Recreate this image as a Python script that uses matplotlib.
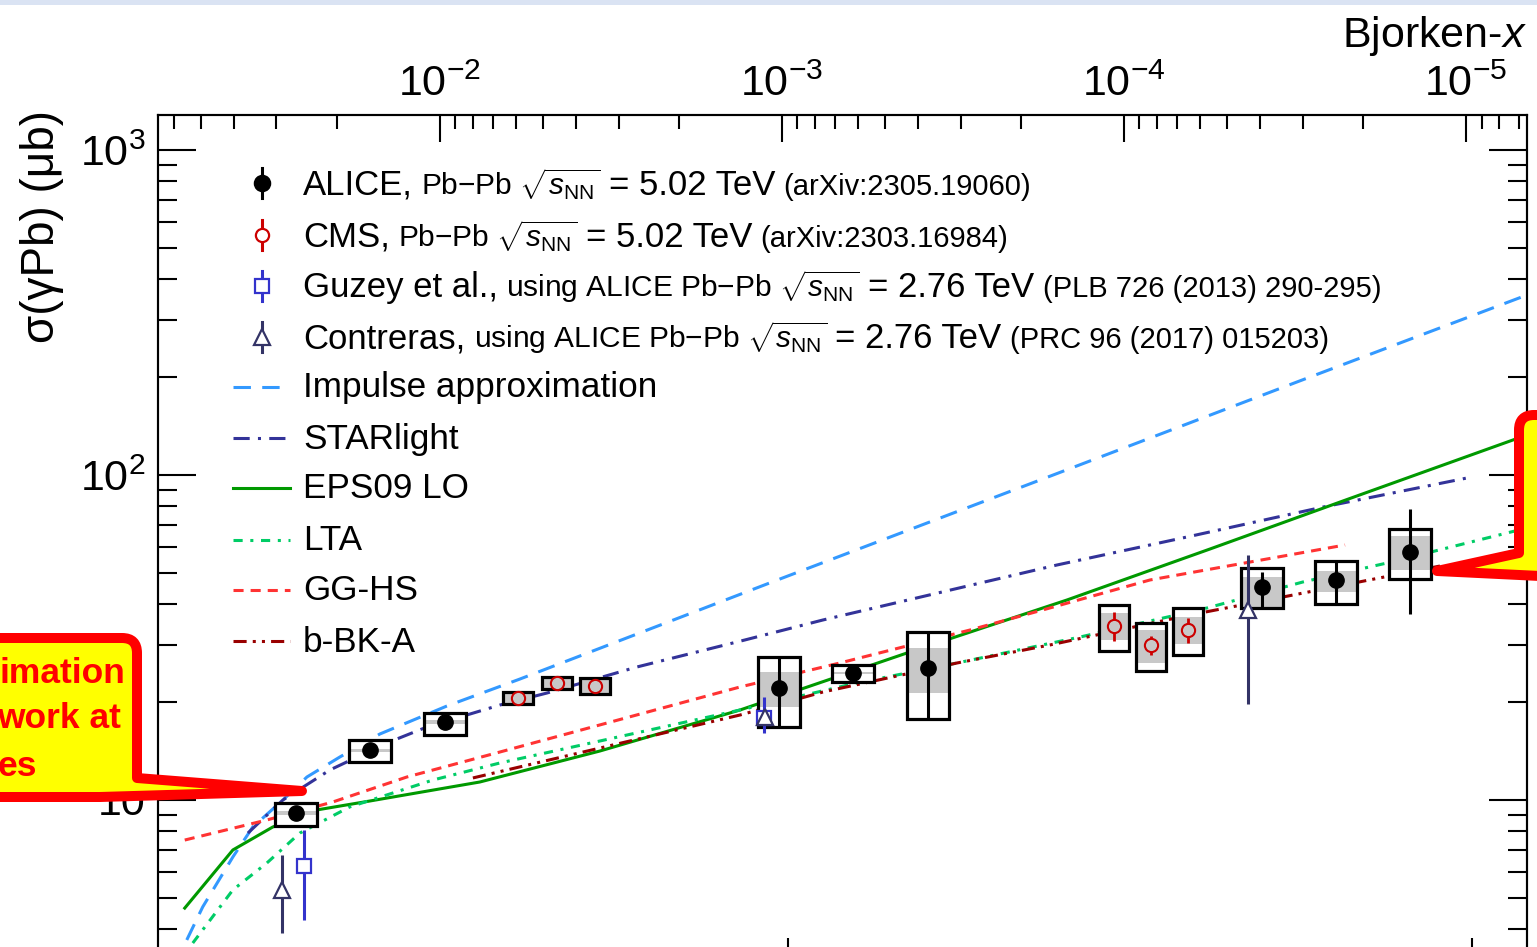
import numpy as np
import matplotlib
matplotlib.use("Agg")
import matplotlib.pyplot as plt
import matplotlib.transforms as mtransforms
from matplotlib.patches import Rectangle, PathPatch
from matplotlib.path import Path
from matplotlib.lines import Line2D
from matplotlib.offsetbox import TextArea, HPacker, AnnotationBbox
from matplotlib.ticker import LogLocator, FuncFormatter, NullFormatter

plt.rcParams['font.family'] = ['Liberation Sans', 'DejaVu Sans']
plt.rcParams['mathtext.fontset'] = 'custom'
plt.rcParams['mathtext.rm'] = 'Liberation Sans'
plt.rcParams['mathtext.it'] = 'Liberation Sans:italic'
plt.rcParams['mathtext.bf'] = 'Liberation Sans:bold'

M_JPSI = 3.0969  # GeV, x = (M/W)^2

# ALICE Pb-Pb 5.02 TeV: W (GeV), sigma (ub), stat, box (uncorr. syst), grey band
alice_w = [19.1, 24.5, 31.5, 97.0, 124.5, 160.2, 493.2, 632.7, 811.9]
alice_sig = [9.12, 14.25, 17.38, 22.12, 24.59, 25.48, 45.22, 47.53, 57.97]
alice_stat_lo = [0.35, 0.40, 0.50, 5.35, 0.50, 7.73, 6.24, 7.43, 20.62]
alice_stat_hi = [0.35, 0.40, 0.50, 5.42, 0.50, 7.40, 5.07, 6.84, 20.63]
alice_box_lo = [0.80, 1.16, 1.53, 5.35, 1.52, 7.73, 6.24, 7.43, 10.11]
alice_box_hi = [0.67, 1.05, 1.14, 5.42, 1.44, 7.40, 6.51, 6.84, 10.25]
alice_band_lo = [0.10, 0.15, 0.20, 2.79, 0.15, 4.14, 5.96, 3.88, 6.95]
alice_band_hi = [0.10, 0.15, 0.20, 2.64, 0.15, 3.88, 3.34, 3.12, 6.94]

# CMS Pb-Pb 5.02 TeV
cms_w = [40.3, 45.95, 52.22, 299.7, 339.6, 384.5]
cms_sig = [20.60, 22.91, 22.43, 34.31, 29.99, 33.35]
cms_stat = [0.4, 0.4, 0.4, 3.5, 2.0, 3.0]
cms_box_lo = [0.86, 0.96, 1.23, 5.57, 5.05, 5.41]
cms_box_hi = [0.89, 0.99, 1.30, 5.50, 5.05, 5.63]
cms_band_lo = [0.86, 0.96, 1.23, 3.24, 3.59, 3.15]
cms_band_hi = [0.89, 0.99, 1.30, 3.31, 3.36, 3.22]

# Guzey et al. and Contreras, from ALICE 2.76 TeV
guzey_w = [19.6, 92.2]
guzey_sig = [6.27, 17.88]
guzey_lo = [2.00, 1.80]
guzey_hi = [1.83, 2.87]

contr_w = [18.2, 92.5, 470.5]
contr_sig = [5.29, 18.01, 38.42]
contr_lo = [1.39, 0.80, 18.68]
contr_hi = [1.48, 0.80, 18.31]

# model curves
ia_w = [13.22, 13.95, 15.44, 16.51, 18.27, 19.81, 22.13, 25.32, 31.73, 40.57, 97.34, 233.6, 554.8, 1203]
ia_sig = [3.71, 4.69, 6.68, 8.26, 10.0, 11.77, 13.56, 15.96, 19.46, 23.56, 47.86, 96.5, 193.3, 357.9]

star_w = [16.24, 18.27, 21.40, 25.93, 29.66, 37.93, 44.44, 60.15, 86.5, 112.5, 247.4, 383.1, 605.6, 983.3]
star_sig = [7.91, 10.0, 12.37, 14.98, 16.77, 19.60, 21.34, 25.66, 31.07, 35.80, 52.86, 64.45, 79.69, 97.9]

eps_w = [13.13, 15.44, 17.66, 20.48, 24.49, 35.45, 53.11, 85.1, 149.3, 255.8, 414.0, 663.2, 1203]
eps_sig = [4.65, 7.02, 8.26, 9.32, 9.93, 11.36, 14.15, 18.92, 28.34, 41.25, 59.2, 84.7, 132.8]

lta_w = [13.49, 15.44, 17.31, 19.34, 22.88, 30.27, 37.93, 53.11, 85.1, 126.1, 176.7, 267.3, 409.9, 566.1, 751.0, 1203]
lta_sig = [3.63, 5.29, 6.40, 7.91, 9.52, 11.52, 13.00, 15.19, 18.92, 22.91, 26.40, 31.73, 38.98, 46.87, 53.6, 68.7]

gghs_w = [13.13, 17.31, 21.61, 27.73, 37.93, 85.1, 119.1, 184.6, 241.5, 338.2, 652.1]
gghs_sig = [7.53, 8.68, 9.86, 11.77, 14.05, 22.27, 26.40, 33.35, 38.98, 47.53, 60.9]

bbk_w = [34.63, 53.11, 85.1, 112.5, 176.7, 241.5, 387.0, 529.2, 898.0]
bbk_sig = [11.69, 14.45, 18.26, 21.49, 26.40, 29.99, 37.09, 42.13, 52.48]

W_MIN, W_MAX = 12.0, 1203.0
S_MIN, S_MAX = 3.107, 1281.0

WPX, HPX = 1537, 947
fig = plt.figure(figsize=(WPX / 100, HPX / 100), dpi=100)
# pixel coordinates, origin top-left
px = mtransforms.Affine2D().scale(1 / WPX, -1 / HPX).translate(0, 1) + fig.transFigure

ax = fig.add_axes([158 / WPX, (HPX - 965) / HPX, (1527 - 158) / WPX, (965 - 115) / HPX])
ax.set_xscale('log')
ax.set_yscale('log')
ax.set_xlim(W_MIN, W_MAX)
ax.set_ylim(S_MIN, S_MAX)

ax2 = ax.twiny()
ax2.set_xscale('log')
ax2.set_xlim((M_JPSI / W_MIN) ** 2, (M_JPSI / W_MAX) ** 2)

GREY = '#c8c8c8'

# models
lw = 2.2
ax.plot(ia_w, ia_sig, color='#3399ff', lw=lw, ls=(0, (5.7, 3.7)), zorder=2)
ax.plot(star_w, star_sig, color='#333399', lw=lw, ls=(0, (5.3, 2.7, 1, 2.7)), zorder=2)
ax.plot(eps_w, eps_sig, color='#009900', lw=lw, ls='-', zorder=2)
ax.plot(lta_w, lta_sig, color='#00cc66', lw=lw, ls=(0, (3, 2.5, 1, 2.5)), zorder=2)
ax.plot(gghs_w, gghs_sig, color='#ff3333', lw=lw, ls=(0, (3.3, 2.3)), zorder=2)
ax.plot(bbk_w, bbk_sig, color='#990000', lw=lw, ls=(0, (4.3, 2, 1, 2, 1, 2)), zorder=2)


def boxes(ws, sig, blo, bhi, glo, ghi, half, lwb):
    for w, s, a, b, c, d in zip(ws, sig, blo, bhi, glo, ghi):
        x0, x1 = w * 10 ** (-half), w * 10 ** half
        ax.add_patch(Rectangle((x0, s - a), x1 - x0, a + b, facecolor='white',
                               edgecolor='none', zorder=3))
        ax.add_patch(Rectangle((x0, s - c), x1 - x0, c + d, facecolor=GREY,
                               edgecolor='none', zorder=3.2))
        ax.add_patch(Rectangle((x0, s - a), x1 - x0, a + b, facecolor='none',
                               edgecolor='black', lw=lwb, zorder=3.4))


boxes(alice_w, alice_sig, alice_box_lo, alice_box_hi, alice_band_lo, alice_band_hi, 0.0307, 2.3)
boxes(cms_w, cms_sig, cms_box_lo, cms_box_hi, cms_band_lo, cms_band_hi, 0.022, 2.3)

ax.errorbar(alice_w, alice_sig, yerr=[alice_stat_lo, alice_stat_hi], fmt='o', color='black',
            ms=11, elinewidth=2.2, capsize=0, zorder=5)
ax.errorbar(cms_w, cms_sig, yerr=cms_stat, fmt='o', mfc=GREY, mec='#cc0000', mew=1.5,
            ecolor='#cc0000', ms=9.5, elinewidth=2, capsize=0, zorder=5)
ax.errorbar(guzey_w, guzey_sig, yerr=[guzey_lo, guzey_hi], fmt='s', mfc='white', mec='#3333cc',
            mew=1.6, ecolor='#3333cc', ms=10, elinewidth=2.2, capsize=0, zorder=6)
ax.errorbar(contr_w, contr_sig, yerr=[contr_lo, contr_hi], fmt='^', mfc='white', mec='#333366',
            mew=1.6, ecolor='#333366', ms=12, elinewidth=2.2, capsize=0, zorder=6)

# axes cosmetics
for a in (ax, ax2):
    for sp in a.spines.values():
        sp.set_linewidth(1.5)


def pow_label(v, pos):
    e = int(round(np.log10(v)))
    return '10' if e == 1 else r'$10^{%d}$' % e


ax.yaxis.set_major_locator(LogLocator(base=10, numticks=20))
ax.yaxis.set_minor_locator(LogLocator(base=10, subs=np.arange(2, 10), numticks=100))
ax.yaxis.set_major_formatter(FuncFormatter(pow_label))
ax.yaxis.set_minor_formatter(NullFormatter())
ax.tick_params(axis='y', which='both', direction='in', left=True, right=True,
               labelsize=31, pad=9, width=1.5)
ax.tick_params(axis='y', which='major', length=27.4)
ax.tick_params(axis='y', which='minor', length=13.7)

ax.xaxis.set_major_locator(LogLocator(base=10, numticks=20))
ax.xaxis.set_minor_locator(LogLocator(base=10, subs=np.arange(2, 10), numticks=100))
ax.xaxis.set_minor_formatter(NullFormatter())
ax.tick_params(axis='x', which='both', direction='in', bottom=True, top=False,
               labelbottom=False, width=1.5)
ax.tick_params(axis='x', which='major', length=19.4)
ax.tick_params(axis='x', which='minor', length=8.6)

ax2.xaxis.set_major_locator(LogLocator(base=10, numticks=20))
ax2.xaxis.set_minor_locator(LogLocator(base=10, subs=np.arange(2, 10), numticks=100))
ax2.xaxis.set_major_formatter(FuncFormatter(pow_label))
ax2.xaxis.set_minor_formatter(NullFormatter())
ax2.tick_params(axis='x', which='both', direction='in', top=True, bottom=False,
                labeltop=True, labelbottom=False, labelsize=31, pad=7, width=1.5)
ax2.tick_params(axis='x', which='major', length=19.4)
ax2.tick_params(axis='x', which='minor', length=10)

ax.text(-0.0847, 1.0059, 'σ(γPb) (μb)', rotation=90, ha='center', va='top',
        fontsize=33, transform=ax.transAxes)
fig.text(1527 / WPX, 1 - 47 / HPX, r'Bjorken-$x$', ha='right', va='baseline', fontsize=31)

# legend
rows = [184, 236, 287, 338, 388, 439, 489, 541, 591, 642]
sq = r'$\sqrt{s_{\rm NN}}$'
labels = [
    [('ALICE,', 25), ('Pb−Pb ' + sq, 21.5), ('= 5.02 TeV', 25), ('(arXiv:2305.19060)', 21)],
    [('CMS,', 25), ('Pb−Pb ' + sq, 21.5), ('= 5.02 TeV', 25), ('(arXiv:2303.16984)', 21)],
    [('Guzey et al.,', 25), ('using ALICE Pb−Pb ' + sq, 21.5), ('= 2.76 TeV', 25),
     ('(PLB 726 (2013) 290-295)', 21)],
    [('Contreras,', 25), ('using ALICE Pb−Pb ' + sq, 21.5), ('= 2.76 TeV', 25),
     ('(PRC 96 (2017) 015203)', 21)],
    [('Impulse approximation', 25.3)],
    [('STARlight', 25.3)],
    [('EPS09 LO', 25.3)],
    [('LTA', 25.3)],
    [('GG-HS', 25.3)],
    [('b-BK-A', 25.3)],
]
for y, parts in zip(rows, labels):
    kids = [TextArea(s, textprops=dict(fontsize=fs, color='black')) for s, fs in parts]
    pack = HPacker(children=kids, align='baseline', pad=0, sep=6)
    fig.add_artist(AnnotationBbox(pack, (303, y), xycoords=px, box_alignment=(0, 0.5),
                                  frameon=False, pad=0))

point_keys = [
    dict(marker='o', mfc='black', mec='black', ms=11, c='black'),
    dict(marker='o', mfc='white', mec='#cc0000', ms=9.5, c='#cc0000'),
    dict(marker='s', mfc='white', mec='#3333cc', ms=10, c='#3333cc'),
    dict(marker='^', mfc='white', mec='#333366', ms=12, c='#333366'),
]
for y, k in zip(rows[:4], point_keys):
    y = y - 1
    fig.add_artist(Line2D([262, 262], [y - 15, y + 15], color=k['c'], lw=2.2, transform=px))
    fig.add_artist(Line2D([262], [y], marker=k['marker'], mfc=k['mfc'], mec=k['mec'],
                          mew=1.6, ms=k['ms'], ls='none', transform=px))

line_keys = [
    ('#3399ff', (0, (5.7, 3.7))),
    ('#333399', (0, (5.3, 2.7, 1, 2.7))),
    ('#009900', '-'),
    ('#00cc66', (0, (3, 2.5, 1, 2.5))),
    ('#ff3333', (0, (3.3, 2.3))),
    ('#990000', (0, (4.3, 2, 1, 2, 1, 2))),
]
for y, (c, ls) in zip(rows[4:], line_keys):
    fig.add_artist(Line2D([233, 290], [y - 1, y - 1], color=c, lw=lw, ls=ls, transform=px))

# slide decorations: top strip and callouts
fig.add_artist(Rectangle((0, 0), WPX, 5, facecolor='#dae3f3', edgecolor='none', transform=px))

C3, L2 = Path.CURVE3, Path.LINETO
left_path = Path([(-40, 638), (122, 638), (137, 638), (137, 653), (137, 778), (302, 791),
                  (100, 797), (-40, 797), (-40, 638)],
                 [Path.MOVETO, L2, C3, C3, L2, L2, L2, L2, Path.CLOSEPOLY])
right_path = Path([(1580, 415), (1534, 415), (1519, 415), (1519, 430), (1519, 553), (1437, 571),
                   (1540, 576), (1580, 576), (1580, 415)],
                  [Path.MOVETO, L2, C3, C3, L2, L2, L2, L2, Path.CLOSEPOLY])
for p in (left_path, right_path):
    fig.add_artist(PathPatch(p, facecolor='#ffff00', edgecolor='#ff0000', lw=7.2,
                             joinstyle='round', transform=px))

for txt, xr, yc in [('imation', 125, 673), ('work at', 121, 719), ('es', 37, 766)]:
    fig.text(xr / WPX, 1 - yc / HPX, txt, ha='right', va='center', fontsize=25.5,
             fontweight='bold', color='#ff0000')

fig.savefig('out.png', dpi=100)
